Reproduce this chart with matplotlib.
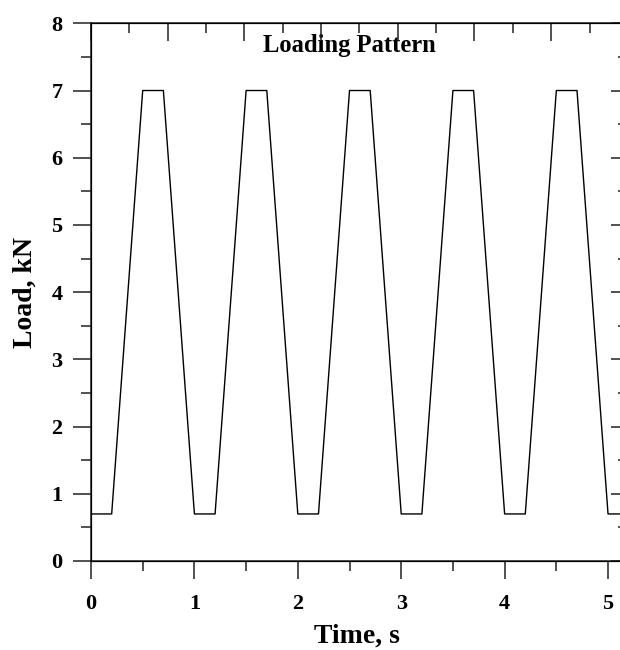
import numpy as np
import matplotlib.pyplot as plt
from matplotlib.ticker import MultipleLocator

# Trapezoidal cyclic loading: 0.7 kN valley, 7 kN peak, 1 s period
time_s = [0.0, 0.2, 0.5, 0.7, 1.0, 1.2, 1.5, 1.7, 2.0, 2.2, 2.5, 2.7,
          3.0, 3.2, 3.5, 3.7, 4.0, 4.2, 4.5, 4.7, 5.0, 5.2]
load_kn = [0.7, 0.7, 7.0, 7.0, 0.7, 0.7, 7.0, 7.0, 0.7, 0.7, 7.0, 7.0,
           0.7, 0.7, 7.0, 7.0, 0.7, 0.7, 7.0, 7.0, 0.7, 0.7]

x_ticks = [0, 1, 2, 3, 4, 5]
y_ticks = [0, 1, 2, 3, 4, 5, 6, 7, 8]

plt.rcParams['font.family'] = ['Liberation Serif', 'DejaVu Serif']
plt.rcParams['font.weight'] = 'bold'

fig = plt.figure(figsize=(6.2, 6.5), dpi=100)
# right spine sits just past the figure edge
ax = fig.add_axes([91 / 620, 89 / 650, 531.5 / 620, 537.7 / 650])

ax.plot(time_s, load_kn, color='black', lw=1.0)
ax.set_xlim(0, 5.14)
ax.set_ylim(0, 8)

ax.set_xticks(x_ticks)
ax.set_yticks(y_ticks)
ax.xaxis.set_minor_locator(MultipleLocator(0.5))
ax.yaxis.set_minor_locator(MultipleLocator(0.5))
ax.tick_params(which='major', direction='out', length=13, width=1.1,
               labelsize=16, pad=7.5, color='#222222')
ax.tick_params(which='minor', direction='out', length=7, width=1.1,
               color='#222222')
ax.tick_params(axis='x', which='major', pad=11)
for lab in ax.get_xticklabels() + ax.get_yticklabels():
    lab.set_fontweight('bold')

for sp in ax.spines.values():
    sp.set_linewidth(1.1)
    sp.set_color('#222222')

# right-hand ticks point inward
axr = ax.twinx()
axr.set_ylim(0, 8)
axr.set_yticks(y_ticks)
axr.yaxis.set_minor_locator(MultipleLocator(0.5))
axr.tick_params(which='major', direction='in', length=8.5, width=1.1,
                labelright=False, color='#222222')
axr.tick_params(which='minor', direction='in', length=3.5, width=1.1,
                color='#222222')

# top ticks on their own scale
axt = ax.twiny()
axt.set_xlim(0, 6.93)
axt.xaxis.set_major_locator(MultipleLocator(1))
axt.xaxis.set_minor_locator(MultipleLocator(0.5))
axt.tick_params(which='major', direction='in', length=13, width=1.1,
                labeltop=False, color='#222222')
axt.tick_params(which='minor', direction='in', length=7, width=1.1,
                color='#222222')

ax.text(2.5, 7.58, 'Loading Pattern', ha='center', va='baseline',
        fontsize=17.7, fontweight='bold')
ax.set_xlabel('Time, s', fontsize=20, fontweight='bold', labelpad=6.5)
ax.set_ylabel('Load, kN', fontsize=20, fontweight='bold', labelpad=10)

fig.savefig('out.png', dpi=100)
